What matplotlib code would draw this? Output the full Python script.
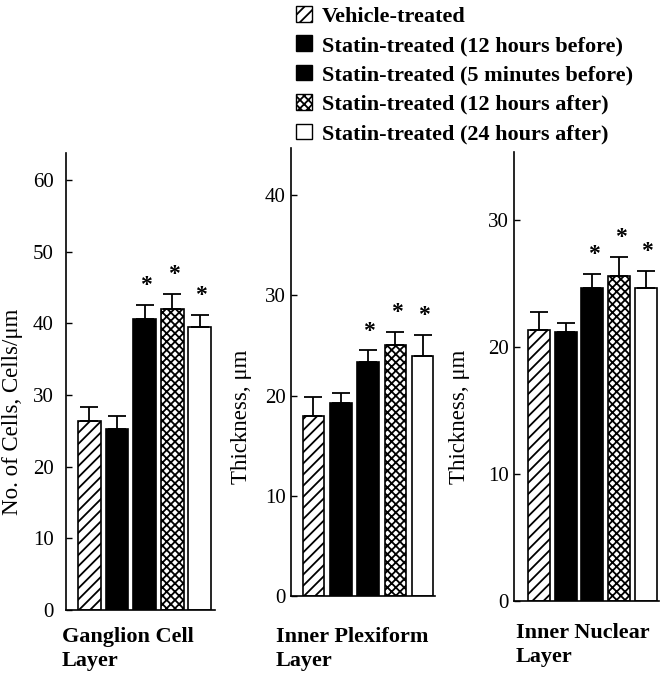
import matplotlib
matplotlib.use("Agg")
import matplotlib.pyplot as plt
from matplotlib.patches import Patch
import numpy as np

plt.rcParams['font.family'] = ['Liberation Serif', 'DejaVu Serif']
plt.rcParams['hatch.linewidth'] = 1.3

groups = ["Vehicle-treated", "Statin-treated (12 hours before)",
          "Statin-treated (5 minutes before)", "Statin-treated (12 hours after)",
          "Statin-treated (24 hours after)"]

gcl_vals = [26.4, 25.3, 40.6, 42.0, 39.5]
gcl_err = [2.0, 1.8, 2.0, 2.1, 1.7]
ipl_vals = [18.0, 19.3, 23.3, 25.0, 23.9]
ipl_err = [1.9, 1.0, 1.2, 1.3, 2.1]
inl_vals = [21.4, 21.2, 24.7, 25.6, 24.7]
inl_err = [1.4, 0.7, 1.1, 1.5, 1.3]
significant = [False, False, True, True, True]

panel_titles = ["Ganglion Cell\nLayer", "Inner Plexiform\nLayer", "Inner Nuclear\nLayer"]
ylabels = ["No. of Cells, Cells/\u03bcm", "Thickness, \u03bcm", "Thickness, \u03bcm"]
yticks_list = [[0, 10, 20, 30, 40, 50, 60], [0, 10, 20, 30, 40], [0, 10, 20, 30]]

faces = ['white', 'black', 'black', 'white', 'white']
hatches = ['///', None, None, 'xxxx', None]

W, H = 661, 678
fig = plt.figure(figsize=(W / 100, H / 100), dpi=100)

def px_axes(left, right, top, bottom):
    return fig.add_axes([left / W, (H - bottom) / H, (right - left) / W, (bottom - top) / H])

specs = [
    dict(box=(66, 215, 153, 610), ytop=63.8, xlim=(-0.85, 4.55), width=0.83,
         lab=(-0.29, 0.433), pad=9),
    dict(box=(291, 435, 148, 596), ytop=44.7, xlim=(-0.82, 4.45), width=0.79,
         lab=(-0.27, 0.40), pad=4),
    dict(box=(514, 659, 152, 601), ytop=35.4, xlim=(-0.93, 4.49), width=0.82,
         lab=(-0.30, 0.41), pad=4),
]
data = [(gcl_vals, gcl_err), (ipl_vals, ipl_err), (inl_vals, inl_err)]

x = np.arange(len(groups))
for i, (spec, (vals, errs)) in enumerate(zip(specs, data)):
    ax = px_axes(*spec['box'])
    for j in range(len(groups)):
        ax.bar(x[j], vals[j], width=spec['width'], color=faces[j], edgecolor='black',
               hatch=hatches[j], linewidth=1.2, zorder=2)
    ax.errorbar(x, vals, yerr=[np.zeros(len(vals)), errs], fmt='none', ecolor='black',
                elinewidth=1.3, capsize=6.5, capthick=1.3, zorder=3)
    for j in range(len(groups)):
        if significant[j]:
            ax.annotate('*', (x[j], vals[j] + errs[j]), xytext=(1, 14),
                        textcoords='offset points', ha='center', va='center',
                        fontsize=17, fontweight='bold')
    ax.set_ylim(0, spec['ytop'])
    ax.set_xlim(*spec['xlim'])
    ax.set_yticks(yticks_list[i])
    ax.set_xticks([])
    ax.tick_params(axis='y', direction='in', length=4, width=1, labelsize=15,
                   pad=spec['pad'])
    for s in ['top', 'right']:
        ax.spines[s].set_visible(False)
    ax.spines['left'].set_linewidth(1.2)
    ax.spines['bottom'].set_linewidth(1.2)
    ax.set_ylabel(ylabels[i], fontsize=16.5)
    ax.yaxis.set_label_coords(*spec['lab'])

label_pos = [(62, 627), (276, 627), (516, 623)]
for (px, py), t in zip(label_pos, panel_titles):
    fig.text(px / W, (H - py) / H, t, ha='left', va='top', fontsize=16,
             fontweight='bold', linespacing=1.25)

handles = [Patch(facecolor=faces[j], edgecolor='black', hatch=hatches[j], linewidth=1.0)
           for j in range(len(groups))]
fig.legend(handles, groups, loc='upper left', bbox_to_anchor=(296 / W, 1 - 6 / H),
           frameon=False, prop=dict(weight='bold', size=16), handlelength=0.7,
           handleheight=0.7, handletextpad=0.45, labelspacing=0.4, borderpad=0,
           borderaxespad=0)

fig.savefig('out.png', dpi=100)
